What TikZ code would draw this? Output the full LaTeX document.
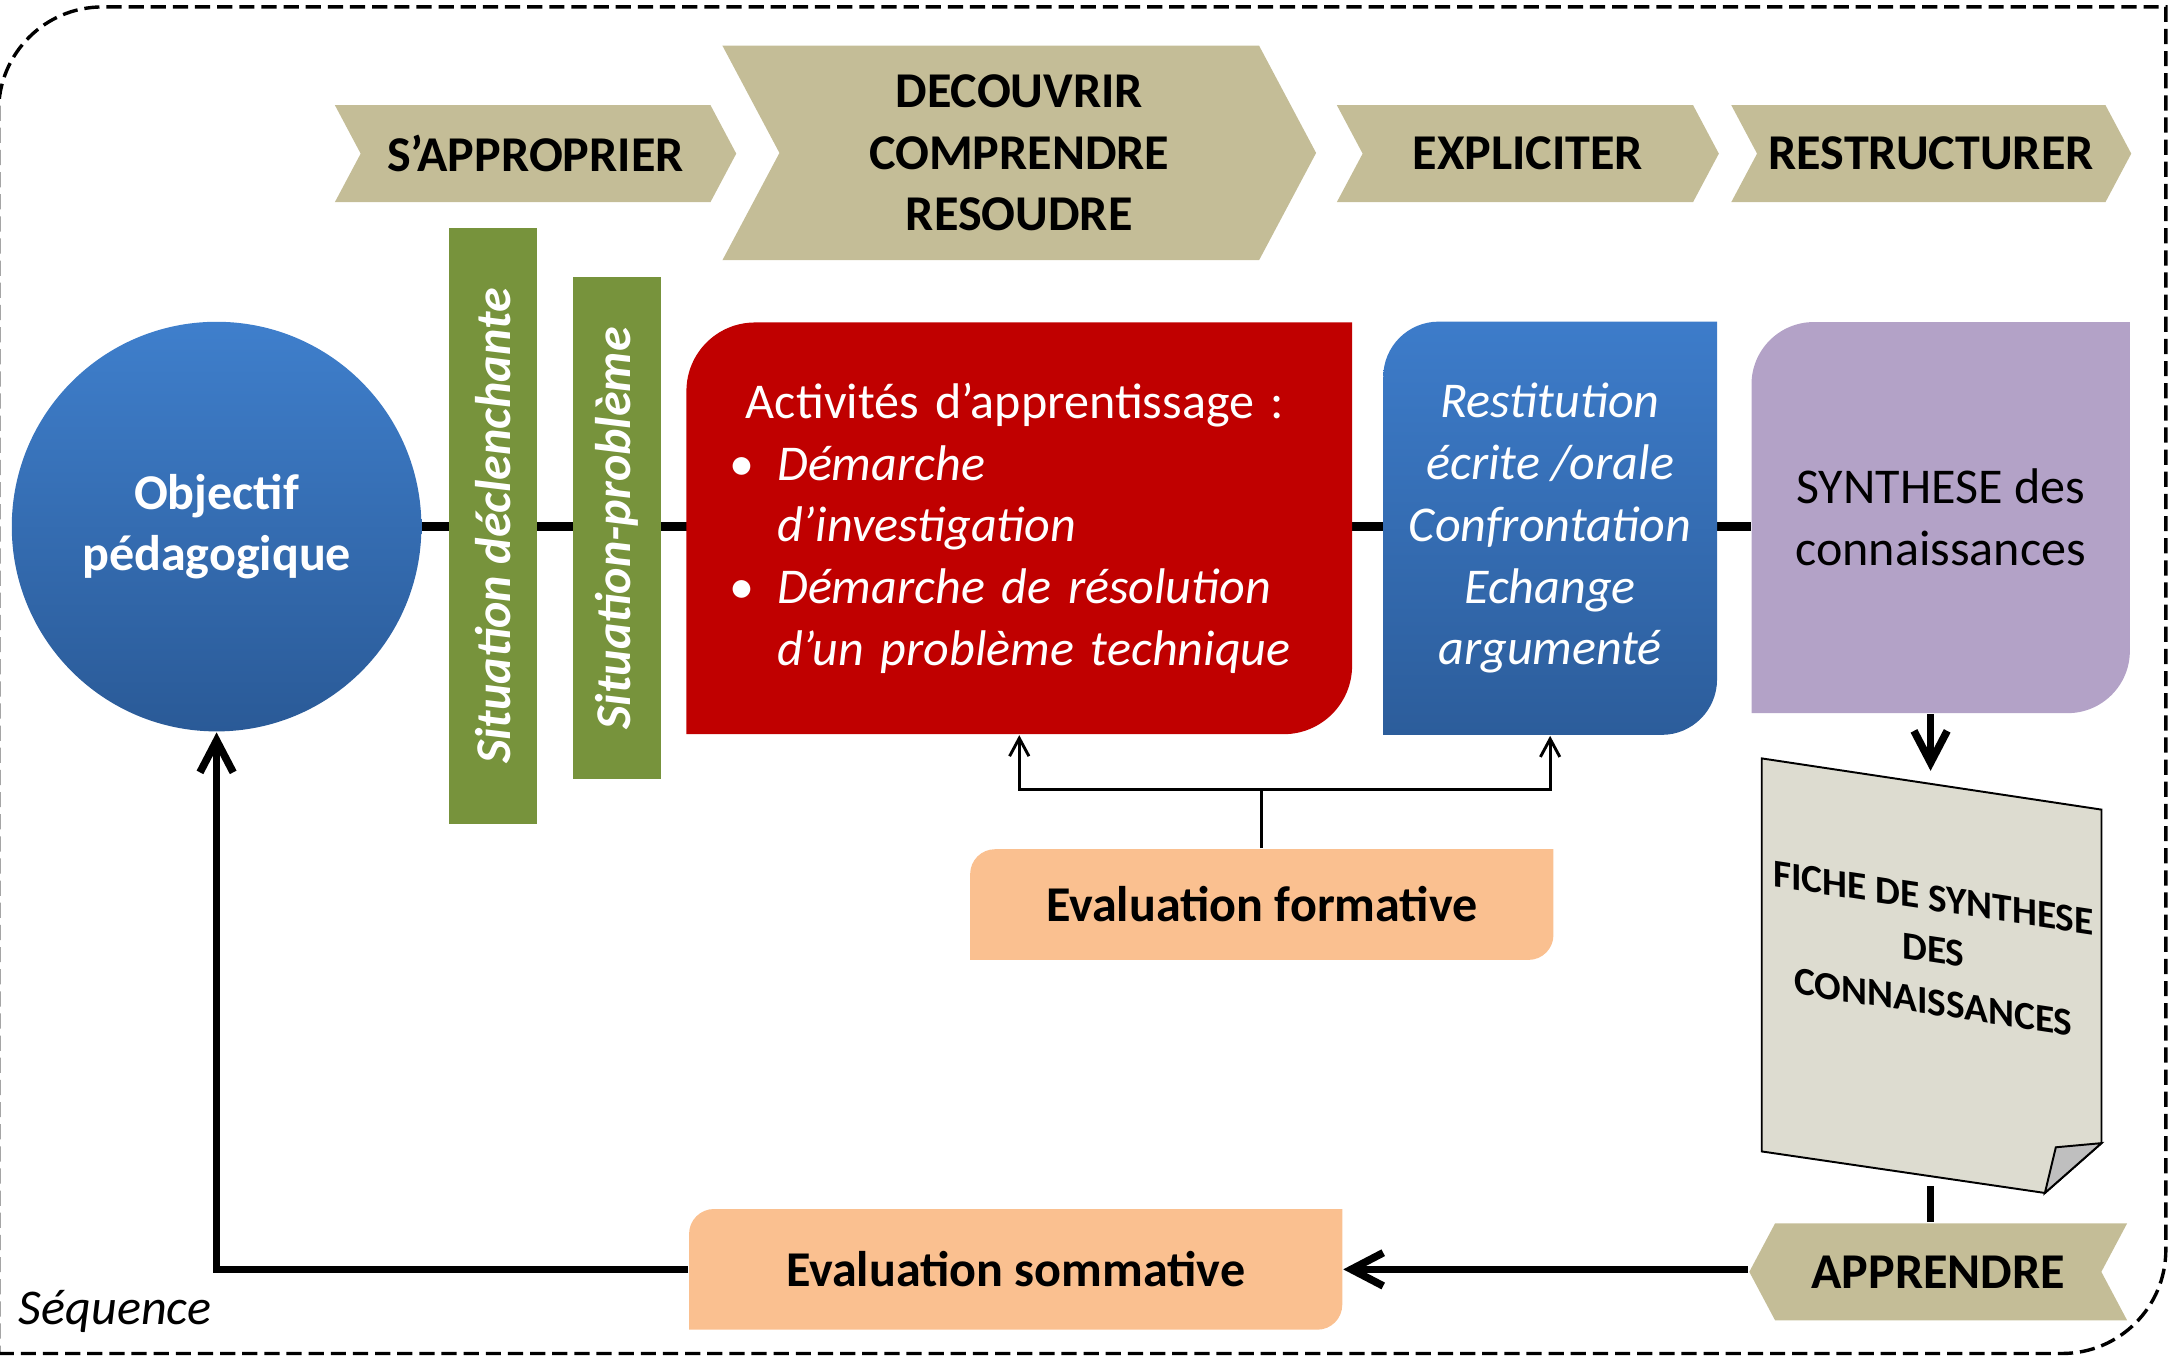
\documentclass[tikz,border=0pt]{standalone}
\usepackage{fontspec}
\setmainfont{Carlito}
\usepackage{tikz}
\usetikzlibrary{arrows.meta, positioning, calc, shapes.symbols, backgrounds}
\definecolor{chevcol}{HTML}{C4BD97}
\definecolor{sitgreen}{HTML}{77933C}
\definecolor{actred}{HTML}{C00000}
\definecolor{restop}{HTML}{3D7CCA}
\definecolor{resbot}{HTML}{2C5D9B}
\definecolor{objtop}{HTML}{3F7FCC}
\definecolor{objbot}{HTML}{2A5A97}
\definecolor{synthcol}{HTML}{B3A2C7}
\definecolor{evalcol}{HTML}{FAC090}
\definecolor{papercol}{HTML}{DDDCD0}
\definecolor{foldcol}{HTML}{BFBFBF}
\tikzset{
x=0.1mm, y=-0.1mm,
>={Straight Barb[length=2.3mm,width=2.4mm]},
phase/.style={%
    signal, signal from=west, signal to=east,
    signal pointer angle=124,
    fill=chevcol, inner sep=0pt,
    minimum height=7mm,
    font=\bfseries
},
backphase/.style={phase, signal from=east, signal to=west},
diag/.style 2 args={%
    rectangle, inner sep=0pt,
    path picture={\path[#1] (path picture bounding box.south west)
        -- ([yshift=-#2]path picture bounding box.north west)
        arc[start angle=180,end angle=90,radius=#2]
        -- (path picture bounding box.north east)
        -- ([yshift=#2]path picture bounding box.south east)
        arc[start angle=0,end angle=-90,radius=#2] -- cycle;}
},
objcircle/.style={%
    circle, minimum size=29.6mm, inner sep=0pt,
    top color=objtop, bottom color=objbot,
    text=white, font=\bfseries, align=center
},
sitbar/.style={%
    rectangle, fill=sitgreen, rotate=90, inner sep=0pt,
    minimum height=6.35mm, text=white, font=\bfseries\itshape
},
mainline/.style={line width=1.7pt},
flow/.style={line width=1.55pt, ->},
fb/.style={line width=0.6pt, -{Straight Barb[length=1.3mm,width=1.4mm]}},
junction/.style={circle,inner sep=0pt,minimum size=0pt},
frame/.style={line width=0.7pt, dash pattern=on 1.1mm off 0.5mm},
}
\newcommand\puce[1]{\makebox[3.46mm][l]{\textbullet}\textit{#1}}

\begin{document}
\fontsize{10.3}{12.7}\selectfont
\begin{tikzpicture}
	\useasboundingbox (0,0) rectangle (1568,980.6);
	\draw[frame] (-1,978) -- (1490,978) arc[start angle=-90,end angle=0,radius=7.5mm]
		-- (1565,5) -- (74,5) arc[start angle=90,end angle=180,radius=7.5mm] -- cycle;

	% phases
	\node[phase, minimum width=29mm] (appro) at (387,111) {S’APPROPRIER};
	\node[phase, minimum width=42.9mm, minimum height=15.5mm, align=center] (decouv) at (736.5,110.5) {DECOUVRIR\\COMPRENDRE\\RESOUDRE};
	\node[phase, minimum width=27.6mm] (expl) at (1104,111) {EXPLICITER};
	\node[phase, minimum width=28.9mm] (restr) at (1395.5,111) {RESTRUCTURER};

	\node[objcircle] (obj) at (156.5,380.5) {Objectif\\pédagogique};
	\node[sitbar, minimum width=43.1mm] (decl) at (356.25,380.1) {Situation déclenchante};
	\node[sitbar, minimum width=36.3mm] (prob) at (446,381.7) {Situation-problème};

	\node[diag={fill=actred}{4.95mm}, minimum width=48.1mm, minimum height=29.75mm,
		text=white, text width=41.9mm, align=left] (act) at (736.5,381.75)
		{\hspace*{1.2mm}Activités d’apprentissage :\\
		\puce{Démarche}\\
		\hspace*{3.46mm}\textit{d’investigation}\\
		\puce{Démarche de résolution}\\
		\hspace*{3.46mm}\textit{d’un problème technique}};
	\node[diag={top color=restop, bottom color=resbot}{4mm}, minimum width=24.12mm, minimum height=29.86mm,
		text=white, align=center, font=\itshape] (rest) at (1120.1,381.7)
		{Restitution\\écrite /orale\\Confrontation\\Echange\\argumenté};
	\node[diag={fill=synthcol}{4.5mm}, minimum width=27.34mm, minimum height=28.26mm, align=center] (synth) at (1402.3,374) {SYNTHESE des\\connaissances};

	\node[diag={fill=evalcol}{1.8mm}, minimum width=42.15mm, minimum height=8mm, font=\bfseries] (evalf) at (911.75,653.6) {Evaluation formative};
	\node[diag={fill=evalcol}{1.8mm}, minimum width=47.2mm, minimum height=8.72mm, font=\bfseries] (evals) at (733.9,917.2) {Evaluation sommative};

	% fiche
	\filldraw[fill=papercol, line width=0.4pt] (1273,548) -- (1518.5,585) -- (1518.5,826) -- (1477.6,862) -- (1273,832) -- cycle;
	\filldraw[fill=foldcol, line width=0.4pt] (1477.6,862) -- (1485.5,829) -- (1518.5,826) -- cycle;
	\node[yslant=-0.1507, align=center, font=\fontsize{8.1}{10.7}\selectfont\bfseries] (fiche) at (1397,686.5) {FICHE DE SYNTHESE\\DES\\CONNAISSANCES};
	\coordinate (ficheTop) at (1395,557);
	\coordinate (ficheBot) at (1395,857);

	\node[backphase, minimum width=27.3mm] (appr) at (1400.5,919) {APPRENDRE};
	\node[anchor=base west, inner sep=0pt] (seq) at (13,957) {\itshape Séquence};

	\node[junction, above=4.2mm of evalf] (jf) {};
	\draw[fb] (evalf.north) -- (jf.center) -| (act.south);
	\draw[fb] (jf.center) -| (rest.south);

	\draw[flow] (synth.south -| ficheTop) -- (ficheTop);
	\draw[flow, -] (ficheBot) -- (ficheBot |- appr.north);
	\draw[flow] (appr.west |- evals.east) -- (evals.east);
	\draw[flow] (evals.west) -| (obj.south);

	\begin{scope}[on background layer]
		\draw[mainline] (obj.east) -- (obj.east -| synth.west);
	\end{scope}
\end{tikzpicture}
\end{document}
